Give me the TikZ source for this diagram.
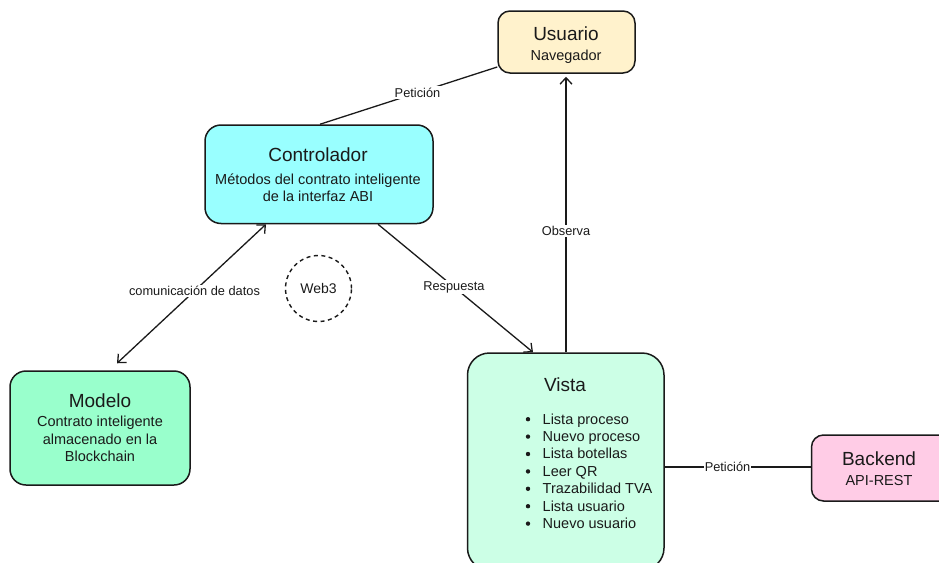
\documentclass[tikz,border=0pt]{standalone}
\usepackage{fontspec}
\setmainfont{Liberation Sans}
\usetikzlibrary{arrows.meta}
\definecolor{userfill}{HTML}{FFF2CC}
\definecolor{ctrlfill}{HTML}{99FFFF}
\definecolor{modelfill}{HTML}{99FFCC}
\definecolor{viewfill}{HTML}{CCFFE6}
\definecolor{backfill}{HTML}{FFCCE6}
\definecolor{ink}{HTML}{1A1A1A}
\tikzset{
  box/.style={draw=ink, line width=1.5pt, rounded corners=12pt, inner sep=0pt},
  title/.style={anchor=base, inner sep=0pt, font=\fontsize{19}{22}\selectfont, text=ink},
  sub/.style={anchor=base, inner sep=0pt, font=\fontsize{14.5}{17}\selectfont, text=ink},
  item/.style={anchor=base west, inner sep=0pt, font=\fontsize{14.5}{17}\selectfont, text=ink},
  lbl/.style={font=\fontsize{12.8}{15}\selectfont, fill=white, inner sep=1.5pt, text=ink},
  conn/.style={draw=ink, line width=1.3pt},
  tip/.style={-{Straight Barb[length=6.5pt,width=12pt,line width=1.3pt]}},
  dtip/.style={{Straight Barb[length=6.5pt,width=12pt,line width=1.3pt]}-{Straight Barb[length=6.5pt,width=12pt,line width=1.3pt]}}
}
\begin{document}
\begin{tikzpicture}[x=1pt,y=-1pt]
\useasboundingbox (0,0) rectangle (939,562);

% boxes
\node[box, fill=userfill, minimum width=137pt, minimum height=62pt] (user) at (566.5,42) {};
\node[box, fill=ctrlfill, rounded corners=16pt, minimum width=228pt, minimum height=98.5pt] (ctrl) at (319,174.25) {};
\node[box, fill=modelfill, rounded corners=16pt, minimum width=180pt, minimum height=114pt] (model) at (100,428) {};
\node[box, fill=viewfill, rounded corners=22pt, minimum width=196.5pt, minimum height=217pt] (view) at (565.75,461.5) {};
\node[box, fill=backfill, minimum width=148.5pt, minimum height=66pt] (back) at (885.75,468) {};
\node[draw=ink, circle, dash pattern=on 4pt off 3.5pt, line width=1.4pt, minimum size=66pt, inner sep=0pt,
      font=\fontsize{14}{17}\selectfont, text=ink] (web) at (318.5,288.5) {Web3};

% box texts
\node[title] (userT) at (566,40) {Usuario};
\node[sub] (userS) at (566,60) {Navegador};
\node[title] (ctrlT) at (318,161) {Controlador};
\node[sub] (ctrlS1) at (318,184) {Métodos del contrato inteligente};
\node[sub] (ctrlS2) at (318,201.5) {de la interfaz ABI};
\node[title] (modelT) at (100,407) {Modelo};
\node[sub] (modelS1) at (100,426.5) {Contrato inteligente};
\node[sub] (modelS2) at (100,444) {almacenado en la};
\node[sub] (modelS3) at (100,461.5) {Blockchain};
\node[title] (backT) at (879,465) {Backend};
\node[sub] (backS) at (879,485.5) {API-REST};
\node[title] (viewT) at (565,391) {Vista};
\foreach \t [count=\i] in {Lista proceso, Nuevo proceso, Lista botellas, Leer QR, Trazabilidad TVA, Lista usuario, Nuevo usuario}{
  \node[item] (viewI\i) at (542.5,{424+17.4*(\i-1)}) {\t};
  \fill[ink] (528,{424+17.4*(\i-1)-4.8}) circle (2.2pt);
}

% connectors
\draw[conn] (ctrl.north -| 320,0) -- node[lbl, pos=0.55] {Petición} (user.west |- 0,67);
\draw[conn, dtip] (ctrl.south -| 266,0) -- node[lbl, pos=0.48] {comunicación de datos} ([yshift=7pt]model.north -| 117,0);
\draw[conn, tip] (ctrl.south -| 378,0) -- node[lbl, pos=0.49] {Respuesta} (view.north -| 533,0);
\draw[conn, tip] (view.north -| 566,0) -- node[lbl, pos=0.44] {Observa} ([yshift=-3pt]user.south -| 566,0);
\draw[conn] (view.east |- 0,467) -- node[lbl, pos=0.43, inner sep=0.5pt] {Petición} (back.west |- 0,467);
\end{tikzpicture}
\end{document}
